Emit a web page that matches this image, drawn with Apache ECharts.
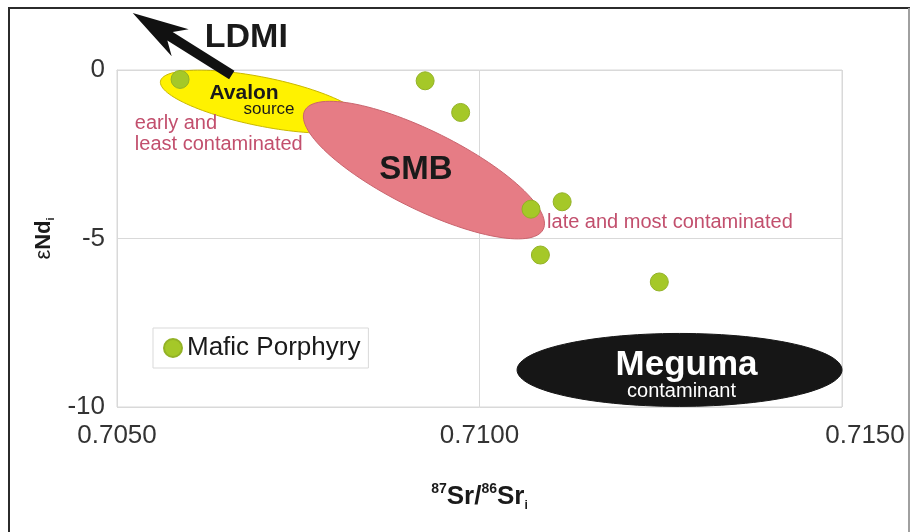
<!DOCTYPE html>
<html>
<head>
<meta charset="utf-8">
<script src="https://cdn.jsdelivr.net/npm/echarts@6/dist/echarts.min.js"></script>
<style>
  html, body { margin: 0; padding: 0; background: #ffffff; }
  #chart { width: 910px; height: 532px; }
</style>
</head>
<body>
<div id="chart"></div>
<script>
const FONT = '"Liberation Sans", Arial, Helvetica, sans-serif';

// Mafic porphyry samples: initial 87Sr/86Sr and initial epsilon Nd
const sampleSr = [0.70587, 0.70925, 0.70974, 0.71114, 0.71071, 0.71084, 0.71248];
const sampleNd = [-0.28, -0.32, -1.26, -3.91, -4.13, -5.49, -6.29];

// Axis ranges and tick steps
const xRange = [0.7050, 0.7150];
const xStep = 0.0050;
const yRange = [-10, 0];
const yStep = 5;

// Reservoir fields: major-axis end points [x1, y1, x2, y2] and minor/major ratio
const avalonField = [0.70560, -0.33, 0.70840, -1.55, 0.235];
const smbField = [0.707588, -1.212, 0.710879, -4.728, 0.293];
const megumaField = [0.710518, -8.90, 0.715000, -8.90, 0.2246];

// LDMI trend arrow: tail point, then head point
const ldmiArrow = [0.706583, -0.149, 0.705217, 1.693];

// Free-standing note anchors (data coordinates)
const noteAnchors = [
  [0.706211, 0.965],   // LDMI (left edge)
  [0.705246, -1.886],  // early and least contaminated (left edge)
  [0.710932, -4.514]   // late and most contaminated (left edge)
];
const noteTexts = ['LDMI', 'early and\nleast contaminated', 'late and most contaminated'];

function ellipseRenderer(fill, stroke, labels) {
  return function (params, api) {
    const p1 = api.coord([api.value(0), api.value(1)]);
    const p2 = api.coord([api.value(2), api.value(3)]);
    const ratio = api.value(4);
    const cx = (p1[0] + p2[0]) / 2, cy = (p1[1] + p2[1]) / 2;
    const dx = p2[0] - p1[0], dy = p2[1] - p1[1];
    const a = Math.hypot(dx, dy) / 2, b = a * ratio;
    const c = dx / (2 * a), s = dy / (2 * a);
    const pts = [];
    for (let i = 0; i < 120; i++) {
      const t = i / 120 * Math.PI * 2;
      const ex = a * Math.cos(t), ey = b * Math.sin(t);
      pts.push([cx + ex * c - ey * s, cy + ex * s + ey * c]);
    }
    const children = [{
      type: 'polygon',
      shape: { points: pts },
      style: { fill: fill, stroke: stroke, lineWidth: 1 }
    }];
    labels.forEach(function (l) {
      children.push({
        type: 'text',
        x: cx + l.dx,
        y: cy + l.dy,
        style: {
          text: l.text, fill: l.color, fontSize: l.size, fontWeight: l.weight,
          fontFamily: FONT, align: 'center', verticalAlign: 'middle'
        }
      });
    });
    return { type: 'group', children: children };
  };
}

function arrowRenderer(params, api) {
  const tail = api.coord([api.value(0), api.value(1)]);
  const tip = api.coord([api.value(2), api.value(3)]);
  const dx = tip[0] - tail[0], dy = tip[1] - tail[1];
  const len = Math.hypot(dx, dy);
  const ux = dx / len, uy = dy / len;
  const nx = -uy, ny = ux;
  const headLen = 56, notch = 44, headHalf = 16, shaftHalf = 5;
  const at = function (d, w) { return [tip[0] - ux * d + nx * w, tip[1] - uy * d + ny * w]; };
  const pts = [
    tip,
    at(headLen, headHalf),
    at(notch, shaftHalf),
    [tail[0] + nx * shaftHalf, tail[1] + ny * shaftHalf],
    [tail[0] - nx * shaftHalf, tail[1] - ny * shaftHalf],
    at(notch, -shaftHalf),
    at(headLen, -headHalf)
  ];
  return { type: 'polygon', shape: { points: pts }, style: { fill: '#111111' } };
}

const noteStyles = [
  { size: 34, weight: 'bold', color: '#1a1a1a', lineHeight: 36 },
  { size: 20, weight: 'normal', color: '#c24f6d', lineHeight: 21 },
  { size: 20, weight: 'normal', color: '#c24f6d', lineHeight: 22 }
];

function noteRenderer(params, api) {
  const p = api.coord([api.value(0), api.value(1)]);
  const st = noteStyles[params.dataIndex];
  return {
    type: 'text',
    x: p[0], y: p[1],
    style: {
      text: noteTexts[params.dataIndex], fill: st.color, fontSize: st.size,
      fontWeight: st.weight, fontFamily: FONT, lineHeight: st.lineHeight,
      align: 'left', verticalAlign: 'middle'
    }
  };
}

const chart = echarts.init(document.getElementById('chart'), null, { renderer: 'canvas' });

chart.setOption({
  animation: false,
  backgroundColor: '#ffffff',
  textStyle: { fontFamily: FONT },
  grid: {
    left: 117, right: 68, top: 70, bottom: 125,
    show: true, borderColor: '#d9d9d9', borderWidth: 1, backgroundColor: 'transparent'
  },
  legend: {
    data: ['Mafic Porphyry'],
    left: 153, top: 328,
    padding: [7, 8, 7, 10],
    borderColor: '#d9d9d9', borderWidth: 1, borderRadius: 0,
    backgroundColor: '#ffffff',
    icon: 'circle', itemWidth: 18, itemHeight: 18,
    textStyle: { fontSize: 26, color: '#1a1a1a', fontFamily: FONT }
  },
  xAxis: {
    type: 'value',
    min: xRange[0], max: xRange[1], interval: xStep,
    axisLine: { show: true, lineStyle: { color: '#d9d9d9' } },
    axisTick: { show: false },
    splitLine: { show: true, lineStyle: { color: '#d9d9d9', width: 1 } },
    axisLabel: {
      margin: 16, color: '#333333', fontSize: 26, fontFamily: FONT,
      formatter: function (v) {
        const s = v.toFixed(4);
        return Math.abs(v - xRange[1]) < 1e-9 ? '{last|' + s + '}' : s;
      },
      rich: { last: { fontSize: 26, color: '#333333', fontFamily: FONT, padding: [0, 0, 0, 46] } }
    },
    name: '{sup|87}{b|Sr/}{sup|86}{b|Sr}{sub|i}',
    nameLocation: 'middle',
    nameGap: 75,
    nameTextStyle: {
      rich: {
        b: { fontSize: 26, fontWeight: 'bold', color: '#1a1a1a', fontFamily: FONT, lineHeight: 30 },
        sup: { fontSize: 14, fontWeight: 'bold', color: '#1a1a1a', fontFamily: FONT, verticalAlign: 'top' },
        sub: { fontSize: 12, fontWeight: 'bold', color: '#1a1a1a', fontFamily: FONT, verticalAlign: 'bottom' }
      }
    }
  },
  yAxis: {
    type: 'value',
    min: yRange[0], max: yRange[1], interval: yStep,
    axisLine: { show: true, lineStyle: { color: '#d9d9d9' } },
    axisTick: { show: false },
    splitLine: { show: true, lineStyle: { color: '#d9d9d9', width: 1 } },
    axisLabel: { margin: 12, color: '#333333', fontSize: 26, fontFamily: FONT },
    name: '{e|ε}{b|Nd}{sub|i}',
    nameLocation: 'middle',
    nameGap: 52,
    nameTextStyle: {
      rich: {
        e: { fontSize: 22, color: '#1a1a1a', fontFamily: FONT, lineHeight: 26 },
        b: { fontSize: 22, fontWeight: 'bold', color: '#1a1a1a', fontFamily: FONT, lineHeight: 26 },
        sub: { fontSize: 11, fontWeight: 'bold', color: '#1a1a1a', fontFamily: FONT, verticalAlign: 'bottom' }
      }
    }
  },
  graphic: [
    { type: 'line', z: 100, shape: { x1: 8, y1: 8, x2: 910, y2: 8 }, style: { stroke: '#2b2b2b', lineWidth: 2 } },
    { type: 'line', z: 100, shape: { x1: 9, y1: 7, x2: 9, y2: 532 }, style: { stroke: '#2b2b2b', lineWidth: 2 } },
    { type: 'line', z: 100, shape: { x1: 909, y1: 8, x2: 909, y2: 532 }, style: { stroke: '#a0a0a0', lineWidth: 2 } }
  ],
  series: [
    {
      type: 'custom', name: 'Avalon source', z: 3, silent: true,
      renderItem: ellipseRenderer('#fff200', '#c9b800', [
        { text: 'Avalon', dx: -18, dy: -8, size: 21, weight: 'bold', color: '#1a1a1a' },
        { text: 'source', dx: 7, dy: 8, size: 17, weight: 'normal', color: '#1a1a1a' }
      ]),
      data: [avalonField]
    },
    {
      type: 'custom', name: 'SMB', z: 4, silent: true,
      renderItem: ellipseRenderer('#e67c85', '#c9646e', [
        { text: 'SMB', dx: -8, dy: 0, size: 33, weight: 'bold', color: '#1a1a1a' }
      ]),
      data: [smbField]
    },
    {
      type: 'custom', name: 'Meguma contaminant', z: 4, silent: true,
      renderItem: ellipseRenderer('#161616', '#161616', [
        { text: 'Meguma', dx: 7, dy: -5, size: 35, weight: 'bold', color: '#ffffff' },
        { text: 'contaminant', dx: 2, dy: 22, size: 20, weight: 'normal', color: '#ffffff' }
      ]),
      data: [megumaField]
    },
    {
      type: 'scatter', name: 'Mafic Porphyry', z: 6,
      symbol: 'circle', symbolSize: 18,
      itemStyle: { color: '#a5c828', borderColor: '#93b226', borderWidth: 1, opacity: 1 },
      data: sampleSr.map(function (x, i) { return [x, sampleNd[i]]; })
    },
    {
      type: 'custom', name: 'LDMI trend', z: 7, silent: true,
      renderItem: arrowRenderer,
      data: [ldmiArrow]
    },
    {
      type: 'custom', name: 'notes', z: 8, silent: true,
      renderItem: noteRenderer,
      data: noteAnchors
    }
  ]
});
</script>
</body>
</html>
